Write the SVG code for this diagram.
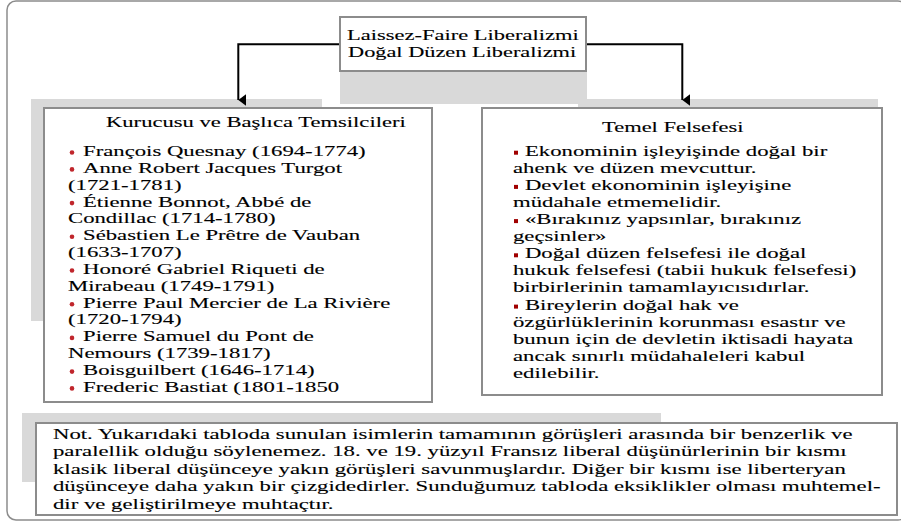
<svg xmlns="http://www.w3.org/2000/svg" width="901" height="524" viewBox="0 0 901 524">
<style>
.t{font-family:"Liberation Serif","Times New Roman",serif;font-size:15px;fill:#000;stroke:#000;stroke-width:0.12;}
.box{fill:#fff;stroke:#8c8c8c;stroke-width:2;}
.shadow{fill:#d9d9d9;}
.conn{fill:none;stroke:#000;stroke-width:2;}
.dot{fill:#c0262c;}
.sq{fill:#a00000;}
</style>
<defs>
<marker id="arr" viewBox="0 0 12 8" refX="6" refY="8" markerWidth="12" markerHeight="8" markerUnits="userSpaceOnUse" orient="auto">
<path d="M0,0 L12,0 L6,8 Z" fill="#000"/>
</marker>
</defs>
<rect x="7" y="1" width="900" height="519" rx="9" fill="#fff" stroke="#8c8c8c" stroke-width="1.5"/>
<g id="shadows">
<rect class="shadow" x="340" y="71" width="247" height="33"/>
<rect class="shadow" x="578" y="99" width="300" height="12"/>
<rect class="shadow" x="31" y="99" width="291" height="222"/>
<rect class="shadow" x="22" y="413" width="639" height="69"/>
</g>
<g id="connectors">
<path class="conn" d="M340,44.3 H238.3 V100" marker-end="url(#arr)"/>
<path class="conn" d="M586,44.3 H682.3 V100" marker-end="url(#arr)"/>
</g>
<g id="node-top">
<rect class="box" x="340" y="17" width="246" height="54" stroke-width="1.5"/>
<text class="t" transform="translate(347,40) scale(1.5,1)">Laissez-Faire Liberalizmi</text>
<text class="t" transform="translate(348,57) scale(1.49,1)">Doğal Düzen Liberalizmi</text>
</g>
<g id="node-left">
<rect class="box" x="44" y="108" width="388" height="294"/>
<text class="t" transform="translate(106,127) scale(1.507,1)">Kurucusu ve Başlıca Temsilcileri</text>
<circle class="dot" cx="72" cy="152.5" r="2.3"/>
<circle class="dot" cx="72" cy="169.4" r="2.3"/>
<circle class="dot" cx="72" cy="203.1" r="2.3"/>
<circle class="dot" cx="72" cy="236.8" r="2.3"/>
<circle class="dot" cx="72" cy="270.5" r="2.3"/>
<circle class="dot" cx="72" cy="304.2" r="2.3"/>
<circle class="dot" cx="72" cy="337.9" r="2.3"/>
<circle class="dot" cx="72" cy="371.6" r="2.3"/>
<circle class="dot" cx="72" cy="388.4" r="2.3"/>
<g transform="translate(68,0) scale(1.515,1)">
<text class="t" x="9.9" y="156">François Quesnay (1694-1774)</text>
<text class="t" x="9.9" y="172.9">Anne Robert Jacques Turgot</text>
<text class="t" x="0" y="189.7">(1721-1781)</text>
<text class="t" x="9.9" y="206.6">Étienne Bonnot, Abbé de</text>
<text class="t" x="0" y="223.4">Condillac (1714-1780)</text>
<text class="t" x="9.9" y="240.3">Sébastien Le Prêtre de Vauban</text>
<text class="t" x="0" y="257.1">(1633-1707)</text>
<text class="t" x="9.9" y="274">Honoré Gabriel Riqueti de</text>
<text class="t" x="0" y="290.8">Mirabeau (1749-1791)</text>
<text class="t" x="9.9" y="307.7">Pierre Paul Mercier de La Rivière</text>
<text class="t" x="0" y="324.5">(1720-1794)</text>
<text class="t" x="9.9" y="341.4">Pierre Samuel du Pont de</text>
<text class="t" x="0" y="358.2">Nemours (1739-1817)</text>
<text class="t" x="9.9" y="375.1">Boisguilbert (1646-1714)</text>
<text class="t" x="9.9" y="391.9">Frederic Bastiat (1801-1850</text>
</g>
</g>
<g id="node-right">
<rect class="box" x="482" y="108" width="400" height="287"/>
<text class="t" transform="translate(602,131.7) scale(1.5,1)">Temel Felsefesi</text>
<rect class="sq" x="514" y="150.7" width="4" height="4"/>
<rect class="sq" x="514" y="184.9" width="4" height="4"/>
<rect class="sq" x="514" y="219.1" width="4" height="4"/>
<rect class="sq" x="514" y="253.3" width="4" height="4"/>
<rect class="sq" x="514" y="304.6" width="4" height="4"/>
<g transform="translate(513,0) scale(1.515,1)">
<text class="t" x="7.9" y="155.7">Ekonominin işleyişinde doğal bir</text>
<text class="t" x="0" y="172.8">ahenk ve düzen mevcuttur.</text>
<text class="t" x="7.9" y="189.9">Devlet ekonominin işleyişine</text>
<text class="t" x="0" y="207">müdahale etmemelidir.</text>
<text class="t" x="7.9" y="224.1">«Bırakınız yapsınlar, bırakınız</text>
<text class="t" x="0" y="241.2">geçsinler»</text>
<text class="t" x="7.9" y="258.3">Doğal düzen felsefesi ile doğal</text>
<text class="t" x="0" y="275.4">hukuk felsefesi (tabii hukuk felsefesi)</text>
<text class="t" x="0" y="292.5">birbirlerinin tamamlayıcısıdırlar.</text>
<text class="t" x="7.9" y="309.6">Bireylerin doğal hak ve</text>
<text class="t" x="0" y="326.7">özgürlüklerinin korunması esastır ve</text>
<text class="t" x="0" y="343.8">bunun için de devletin iktisadi hayata</text>
<text class="t" x="0" y="360.9">ancak sınırlı müdahaleleri kabul</text>
<text class="t" x="0" y="378">edilebilir.</text>
</g>
</g>
<g id="node-note">
<rect class="box" x="36" y="423" width="861" height="92"/>
<g transform="translate(53,0) scale(1.517,1)">
<text class="t" x="0" y="439">Not. Yukarıdaki tabloda sunulan isimlerin tamamının görüşleri arasında bir benzerlik ve</text>
<text class="t" x="0" y="456.5">paralellik olduğu söylenemez. 18. ve 19. yüzyıl Fransız liberal düşünürlerinin bir kısmı</text>
<text class="t" x="0" y="474">klasik liberal düşünceye yakın görüşleri savunmuşlardır. Diğer bir kısmı ise liberteryan</text>
<text class="t" x="0" y="491.5">düşünceye daha yakın bir çizgidedirler. Sunduğumuz tabloda eksiklikler olması muhtemel-</text>
<text class="t" x="0" y="509">dir ve geliştirilmeye muhtaçtır.</text>
</g>
</g>
</svg>
